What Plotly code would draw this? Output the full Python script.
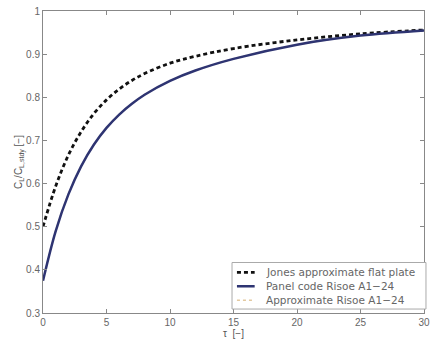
import plotly.graph_objects as go

tau = [0, 1, 2, 3, 4, 5, 6, 7, 8, 10, 12, 15, 20, 25, 30]
jones = [0.500, 0.594, 0.666, 0.720, 0.762, 0.794, 0.819, 0.839, 0.855, 0.879, 0.895, 0.913, 0.933, 0.947, 0.956]
panel = [0.375, 0.490, 0.575, 0.640, 0.690, 0.729, 0.760, 0.785, 0.806, 0.838, 0.862, 0.889, 0.922, 0.943, 0.955]
approx = [0.376, 0.491, 0.576, 0.640, 0.690, 0.729, 0.760, 0.785, 0.806, 0.838, 0.862, 0.889, 0.922, 0.943, 0.955]

series_names = ["Jones approximate flat plate", "Panel code Risoe A1\u221224", "Approximate Risoe A1\u221224"]

xticks = [0, 5, 10, 15, 20, 25, 30]
yticks = [0.3, 0.4, 0.5, 0.6, 0.7, 0.8, 0.9, 1.0]
ytick_text = ["0.3", "0.4", "0.5", "0.6", "0.7", "0.8", "0.9", "1"]

FONT = "Liberation Sans, Arial, sans-serif"
LEGFONT = "DejaVu Sans, sans-serif"
jones_line = dict(color="#111111", width=2.8, dash="4px,3px")
panel_line = dict(color="#2e3472", width=2.5)
approx_line = dict(color="#e3c9a0", width=1.5, dash="dot")

fig = go.Figure()
fig.add_trace(go.Scatter(x=tau, y=jones, mode="lines", name=series_names[0],
                         line=dict(**jones_line, shape="spline"), showlegend=False))
fig.add_trace(go.Scatter(x=tau, y=approx, mode="lines", name=series_names[2],
                         line=dict(**approx_line, shape="spline"), showlegend=False))
fig.add_trace(go.Scatter(x=tau, y=panel, mode="lines", name=series_names[1],
                         line=dict(**panel_line, shape="spline"), showlegend=False))

axis_common = dict(showgrid=False, zeroline=False, showline=True, linecolor="#888888", linewidth=1,
                   mirror="ticks", ticks="inside", ticklen=4, tickcolor="#888888",
                   tickfont=dict(family=FONT, size=10, color="#666666"))

# manual legend (paper coordinates of the plot area)
L, R, T, B = 43, 430, 8, 313
def px(x):
    return (x - L) / (R - L)
def py(y):
    return (B - y) / (B - T)

shapes = [dict(type="rect", xref="paper", yref="paper", x0=px(235), x1=px(432), y0=py(309), y1=py(262),
               line=dict(color="#aaaaaa", width=1), fillcolor="white", layer="above")]
annotations = []
row_y = [272, 286, 300]
styles = [jones_line, panel_line, approx_line]
for name, yy, st in zip(series_names, row_y, styles):
    shapes.append(dict(type="line", xref="paper", yref="paper", x0=px(240), x1=px(258), y0=py(yy), y1=py(yy),
                       line=dict(color=st["color"], width=st["width"], dash=st.get("dash", "solid")),
                       layer="above"))
    annotations.append(dict(xref="paper", yref="paper", x=px(267), y=py(yy), xanchor="left", yanchor="middle",
                            text=name, showarrow=False, font=dict(family=LEGFONT, size=10.5, color="#666666")))

fig.update_layout(
    width=435, height=346,
    margin=dict(l=L, r=435 - R, t=T, b=346 - B),
    paper_bgcolor="white", plot_bgcolor="white",
    showlegend=False,
    shapes=shapes, annotations=annotations,
    xaxis=dict(range=[0, 30], tickvals=xticks,
               title=dict(text="\u03c4  [\u2212]", standoff=2, font=dict(family=FONT, size=10, color="#555555")),
               **axis_common),
    yaxis=dict(range=[0.3, 1.0], tickvals=yticks, ticktext=ytick_text,
               title=dict(text="C<sub>L</sub>/C<sub>L,stdy</sub> [\u2212]", standoff=0,
                          font=dict(family=FONT, size=10, color="#555555")),
               **axis_common),
)

fig.write_html("out.html")
